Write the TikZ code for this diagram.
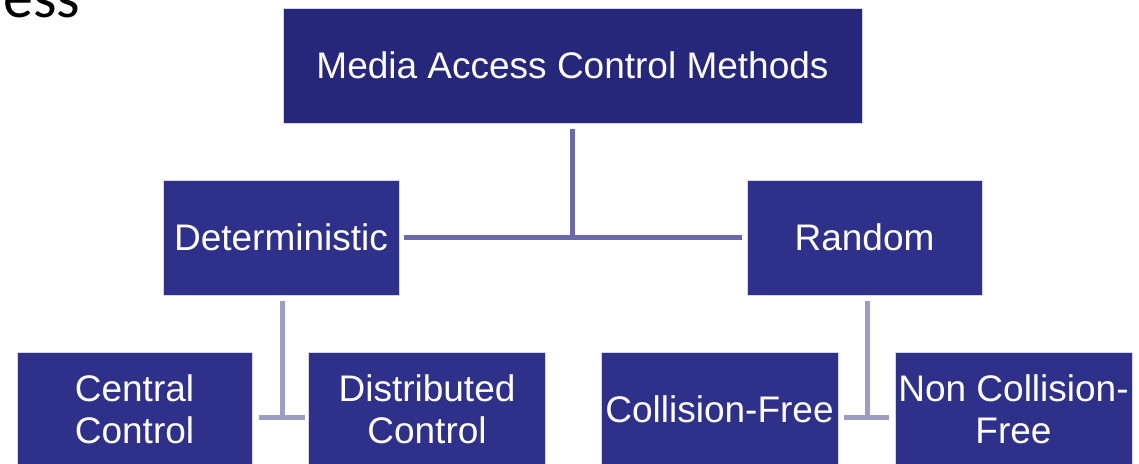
\documentclass[tikz,border=0pt]{standalone}
\usepackage{fontspec}
\setmainfont{Liberation Sans}
\newfontfamily\titlefont{Carlito}
\usepackage{tikz}
\usetikzlibrary{positioning,calc}
\definecolor{boxtop}{HTML}{26277A}
\definecolor{boxblue}{HTML}{2E3089}
\definecolor{linetop}{HTML}{6A6AAA}
\definecolor{linelow}{HTML}{9D9DC3}
\tikzset{mbox/.style={rectangle, draw=white!80!boxblue, line width=0.8pt, fill=boxblue, text=white, align=center, inner sep=0pt, minimum height=115pt, font=\fontsize{37}{42}\selectfont}}
\tikzset{conn/.style={draw=linetop, line width=5pt}}
\tikzset{conn2/.style={draw=linelow, line width=5pt}}

\begin{document}
\begin{tikzpicture}[x=1pt, y=-1pt]
			\useasboundingbox (0,0) rectangle (1139,463);
			\clip (0,0) rectangle (1139,463);
			% slide title remnant
			\node[anchor=base west, inner sep=0pt, font=\titlefont\fontsize{60}{60}\selectfont] (title) at (3,17) {ess};
			%
			\node[mbox, fill=boxtop, minimum width=579pt] (mac) at (572.5,65.5) {Media Access Control Methods};
			\node[mbox, minimum width=236pt] (det) at (281,237.5) {Deterministic};
			\node[mbox, minimum width=235pt] (rnd) at (864.5,237.5) {Random};
			%
			\node[mbox, minimum width=235pt] (central) at (134.5,409.5) {Central\\Control};
			\node[mbox, minimum width=237pt] (distr) at (427,409.5) {Distributed\\Control};
			\node[mbox, minimum width=237pt] (cfree) at (719.5,409.5) {Collision-Free};
			\node[mbox, minimum width=237pt] (ncfree) at (1013.5,409.5) {Non Collision-\\Free};
			%
			\coordinate (dj) at (282,417);
			\coordinate (rj) at (867,417);
			%
			\draw[conn, shorten <=6pt] (mac.south) -- (mac.south |- det.center);
			\draw[conn, shorten <=5pt, shorten >=5pt] (det) -- (rnd);
			\draw[conn2, shorten <=6pt] (dj |- det.south) -- (dj);
			\draw[conn2, shorten <=7pt, shorten >=3pt] (central.east |- dj) -- (distr.west |- dj);
			\draw[conn2, shorten <=6pt] (rj |- rnd.south) -- (rj);
			\draw[conn2, shorten <=6pt, shorten >=6pt] (cfree.east |- rj) -- (ncfree.west |- rj);
		\end{tikzpicture}
\end{document}
